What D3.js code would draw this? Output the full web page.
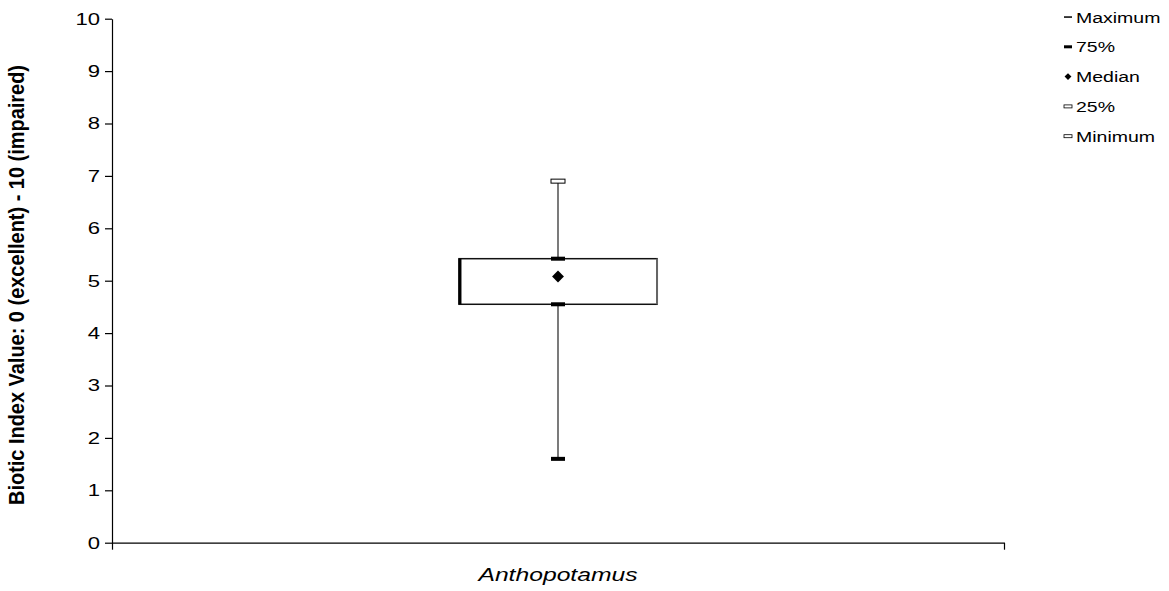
<!DOCTYPE html>
<html>
<head>
<meta charset="utf-8">
<script src="https://cdn.jsdelivr.net/npm/d3@7"></script>
<style>
  body { margin: 0; background: #fff; }
  svg { display: block; }
  text { font-family: Arial, "Liberation Sans", sans-serif; }
</style>
</head>
<body>
<svg id="chart" width="1169" height="591"></svg>
<script>
// data
const categories = ["Anthopotamus"];
const maximum = [6.9];
const q75 = [5.42];
const median = [5.08];
const q25 = [4.55];
const minimum = [1.6];
const yTicks = [0, 1, 2, 3, 4, 5, 6, 7, 8, 9, 10];
const legendLabels = ["Maximum", "75%", "Median", "25%", "Minimum"];

const width = 1169, height = 591;
const margin = { top: 18.7, left: 112, right: 165, bottom: 48.3 };
const bodyWidth = width - margin.left - margin.right;
const bodyHeight = height - margin.top - margin.bottom;
const sx = 1.3; // text in the picture is stretched sideways

const svg = d3.select("#chart");
const body = svg.append("g")
  .attr("transform", `translate(${margin.left},${margin.top})`);

const y = d3.scaleLinear().domain([0, 10]).range([bodyHeight, 0]);
const x = d3.scaleBand().domain(categories).range([0, bodyWidth]).padding(0.6366);
const xEdge = d3.scaleLinear().domain([0, categories.length]).range([0, bodyWidth]);

// y axis
const yAxis = body.append("g")
  .call(d3.axisLeft(y).tickValues(yTicks).tickSize(7).tickSizeOuter(0));
yAxis.select(".domain").attr("stroke", "#000").attr("stroke-width", 1.2);
yAxis.selectAll(".tick line").attr("stroke", "#000").attr("stroke-width", 1.2);
yAxis.selectAll(".tick text")
  .attr("font-size", 17).attr("fill", "#000")
  .attr("font-family", "Arial, 'Liberation Sans', sans-serif")
  .attr("x", -12 / sx)
  .attr("transform", `scale(${sx},1)`);

// x axis (ticks at category boundaries)
const xAxis = body.append("g")
  .attr("transform", `translate(0,${bodyHeight})`)
  .call(d3.axisBottom(xEdge).ticks(categories.length).tickFormat("").tickSize(7).tickSizeOuter(0));
xAxis.select(".domain").attr("stroke", "#000").attr("stroke-width", 1.2);
xAxis.selectAll(".tick line").attr("stroke", "#000").attr("stroke-width", 1.2);

body.selectAll(".cat")
  .data(categories)
  .enter().append("text")
  .attr("transform", d => `translate(${x(d) + x.bandwidth() / 2},${bodyHeight + 38}) scale(${sx},1)`)
  .attr("text-anchor", "middle")
  .attr("font-style", "italic")
  .attr("font-size", 19)
  .text(d => d);

// boxes
const rows = categories.map((c, i) => ({
  cat: c, max: maximum[i], hi: q75[i], med: median[i], lo: q25[i], min: minimum[i]
}));

const g = body.selectAll(".box").data(rows).enter().append("g");
const cx = d => x(d.cat) + x.bandwidth() / 2;

// box
g.append("rect")
  .attr("x", d => x(d.cat))
  .attr("y", d => y(d.hi))
  .attr("width", x.bandwidth())
  .attr("height", d => y(d.lo) - y(d.hi))
  .attr("fill", "#fff")
  .attr("stroke", "#111").attr("stroke-width", 1.5);
g.append("line")
  .attr("x1", d => x(d.cat) + 1)
  .attr("x2", d => x(d.cat) + 1)
  .attr("y1", d => y(d.hi))
  .attr("y2", d => y(d.lo))
  .attr("stroke", "#000").attr("stroke-width", 3);
g.append("line")
  .attr("x1", d => x(d.cat) + x.bandwidth())
  .attr("x2", d => x(d.cat) + x.bandwidth())
  .attr("y1", d => y(d.hi))
  .attr("y2", d => y(d.lo))
  .attr("stroke", "#666").attr("stroke-width", 2);

// whiskers
g.append("line")
  .attr("x1", cx).attr("x2", cx)
  .attr("y1", d => y(d.max)).attr("y2", d => y(d.hi))
  .attr("stroke", "#222").attr("stroke-width", 1.2);
g.append("line")
  .attr("x1", cx).attr("x2", cx)
  .attr("y1", d => y(d.lo)).attr("y2", d => y(d.min))
  .attr("stroke", "#222").attr("stroke-width", 1.2);

const capW = 14;
// filled caps
["hi", "lo", "min"].forEach(k => {
  g.append("rect")
    .attr("x", d => cx(d) - capW / 2)
    .attr("y", d => y(d[k]) - 2)
    .attr("width", capW).attr("height", 4)
    .attr("fill", "#000");
});
// hollow cap at maximum
g.append("rect")
  .attr("x", d => cx(d) - capW / 2)
  .attr("y", d => y(d.max) - 2)
  .attr("width", capW).attr("height", 4)
  .attr("fill", "#fff").attr("stroke", "#000").attr("stroke-width", 1);

// median diamond
g.append("path")
  .attr("d", d3.symbol(d3.symbolDiamond2, 90))
  .attr("transform", d => `translate(${cx(d)},${y(d.med)})`)
  .attr("fill", "#000");

// y title
svg.append("text")
  .attr("transform", `translate(24,285) rotate(-90) scale(1,1.25)`)
  .attr("text-anchor", "middle")
  .attr("font-weight", "bold")
  .attr("font-size", 18)
  .attr("textLength", 440)
  .attr("lengthAdjust", "spacingAndGlyphs")
  .text("Biotic Index Value: 0 (excellent) - 10 (impaired)");

// legend
const legend = svg.append("g").attr("transform", "translate(1068,17)");
const items = legend.selectAll("g").data(legendLabels).enter().append("g")
  .attr("transform", (d, i) => `translate(0,${i * 29.8})`);
items.append("text")
  .attr("transform", `translate(8,5.5) scale(${sx},1)`)
  .attr("font-size", 15)
  .text(d => d);
items.each(function(d, i) {
  const s = d3.select(this);
  if (i === 0) s.append("rect").attr("x", -4).attr("y", -0.7).attr("width", 8).attr("height", 1.5).attr("fill", "#000");
  if (i === 1) s.append("rect").attr("x", -4).attr("y", -1.5).attr("width", 8).attr("height", 3).attr("fill", "#000");
  if (i === 2) s.append("path").attr("d", d3.symbol(d3.symbolDiamond2, 30)).attr("fill", "#000");
  if (i >= 3) s.append("rect").attr("x", -4).attr("y", -1.5).attr("width", 8).attr("height", 3)
    .attr("fill", "#fff").attr("stroke", "#000").attr("stroke-width", 0.8);
});
</script>
</body>
</html>
